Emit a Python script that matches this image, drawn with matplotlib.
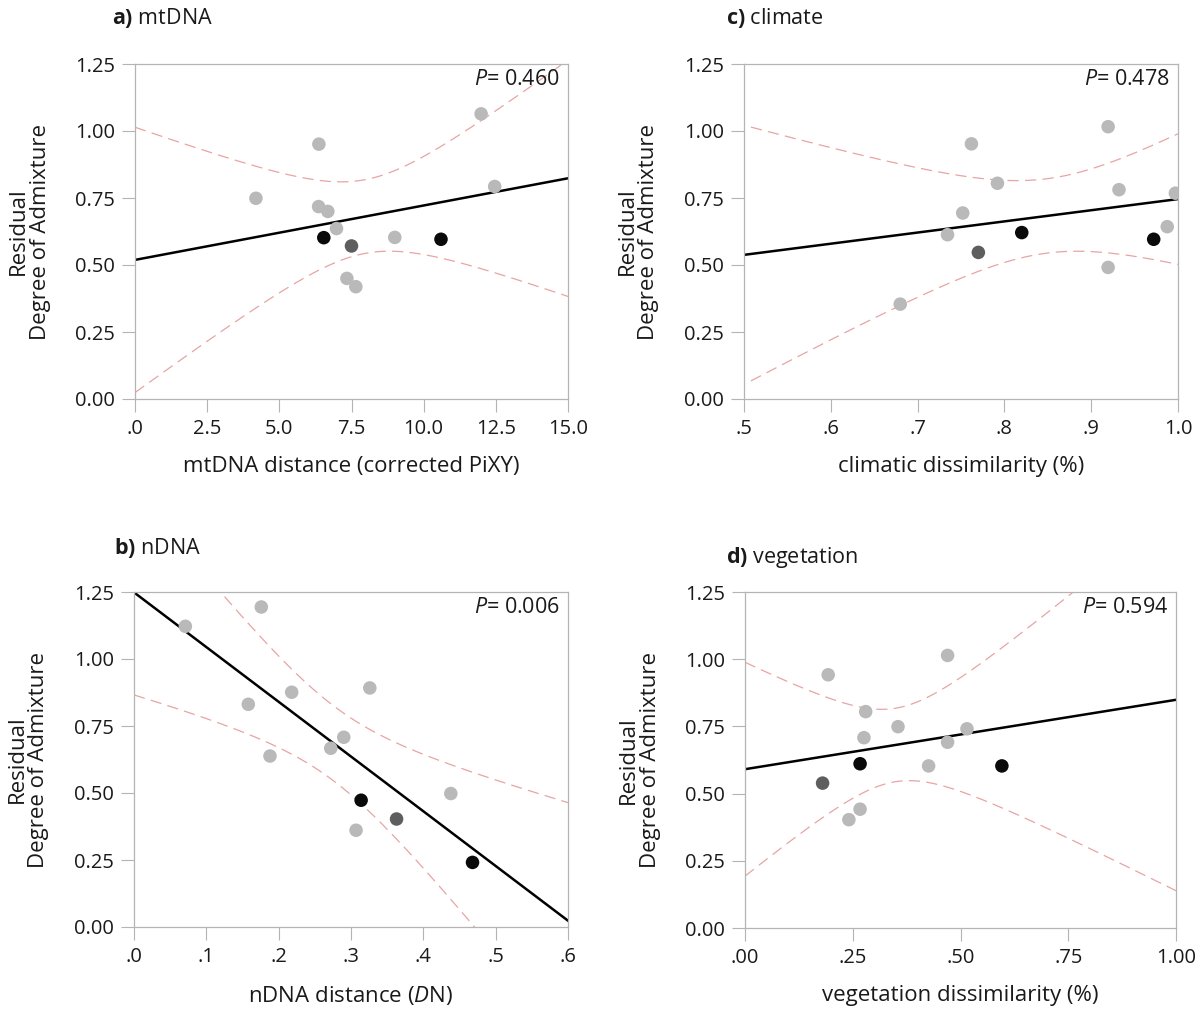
import numpy as np
import matplotlib
matplotlib.use("Agg")
import matplotlib.pyplot as plt

plt.rcParams["font.family"] = ["Open Sans", "DejaVu Sans"]
plt.rcParams["mathtext.fontset"] = "custom"
plt.rcParams["mathtext.rm"] = "Open Sans"
plt.rcParams["mathtext.it"] = "Open Sans:italic"
plt.rcParams["mathtext.bf"] = "Open Sans:bold"

# group of each point: 0 = light grey, 1 = dark grey, 2 = black
# a) mtDNA
mt_x = [4.19, 6.37, 6.36, 6.68, 6.98, 6.54, 7.50, 7.34, 7.65, 9.00, 10.60, 11.99, 12.46]
mt_y = [0.749, 0.951, 0.718, 0.700, 0.636, 0.602, 0.571, 0.450, 0.419, 0.603, 0.596, 1.064, 0.793]
mt_grp = [0, 0, 0, 0, 0, 2, 1, 0, 0, 0, 2, 0, 0]

# b) nDNA
nd_x = [0.071, 0.176, 0.158, 0.188, 0.218, 0.272, 0.290, 0.326, 0.314, 0.307, 0.363, 0.438, 0.468]
nd_y = [1.122, 1.194, 0.831, 0.638, 0.876, 0.667, 0.708, 0.892, 0.473, 0.361, 0.403, 0.498, 0.241]
nd_grp = [0, 0, 0, 0, 0, 0, 0, 0, 2, 0, 1, 0, 2]

# c) climate
cl_x = [0.680, 0.7345, 0.752, 0.762, 0.770, 0.792, 0.820, 0.9195, 0.932, 0.9195, 0.972, 0.9876, 0.997]
cl_y = [0.354, 0.613, 0.694, 0.952, 0.547, 0.805, 0.621, 1.016, 0.781, 0.491, 0.596, 0.643, 0.768]
cl_grp = [0, 0, 0, 0, 1, 0, 2, 0, 0, 0, 2, 0, 0]

# d) vegetation
vg_x = [0.193, 0.180, 0.241, 0.267, 0.267, 0.276, 0.280, 0.355, 0.426, 0.470, 0.470, 0.515, 0.596]
vg_y = [0.942, 0.539, 0.403, 0.442, 0.611, 0.708, 0.805, 0.749, 0.603, 1.014, 0.691, 0.741, 0.603]
vg_grp = [0, 1, 0, 0, 2, 0, 0, 0, 0, 0, 0, 0, 2]

y_ticks = [0.0, 0.25, 0.5, 0.75, 1.0, 1.25]
y_ticklabels = ["0.00", "0.25", "0.50", "0.75", "1.00", "1.25"]

mt_ticks = [0, 2.5, 5, 7.5, 10, 12.5, 15]
mt_ticklabels = [".0", "2.5", "5.0", "7.5", "10.0", "12.5", "15.0"]
nd_ticks = [0, 0.1, 0.2, 0.3, 0.4, 0.5, 0.6]
nd_ticklabels = [".0", ".1", ".2", ".3", ".4", ".5", ".6"]
cl_ticks = [0.5, 0.6, 0.7, 0.8, 0.9, 1.0]
cl_ticklabels = [".5", ".6", ".7", ".8", ".9", "1.0"]
vg_ticks = [0, 0.25, 0.5, 0.75, 1.0]
vg_ticklabels = [".00", ".25", ".50", ".75", "1.00"]

p_values = ["0.460", "0.006", "0.478", "0.594"]

T_BAND = 2.72  # t multiplier of the confidence curves (matches the drawn bands)
colors = ["#b9b9b9", "#5e5e5e", "#0a0a0a"]
spine_col = "#b4b4b4"

W, H = 1200, 1031
fig = plt.figure(figsize=(W / 100, H / 100), dpi=100)


def px_axes(l, t, r, b):
    return fig.add_axes([l / W, 1 - b / H, (r - l) / W, (b - t) / H])


panels = [
    # (box, x, y, grp, xlim, band start, ticks, ticklabels, xlabel, title, title pos, p)
    ((135, 64, 568, 399), mt_x, mt_y, mt_grp, (0, 15), 0, mt_ticks, mt_ticklabels,
     "mtDNA distance (corrected PiXY)", ("a)", "mtDNA"), (112, 18), p_values[0]),
    ((134, 592, 568, 927), nd_x, nd_y, nd_grp, (0, 0.6), 0, nd_ticks, nd_ticklabels,
     r"nDNA distance ($\mathit{D}$N)", ("b)", "nDNA"), (114, 548), p_values[1]),
    ((744, 64, 1178, 399), cl_x, cl_y, cl_grp, (0.5, 1.0), 0.508, cl_ticks, cl_ticklabels,
     "climatic dissimilarity (%)", ("c)", "climate"), (726, 18), p_values[2]),
    ((745, 592, 1176, 928), vg_x, vg_y, vg_grp, (0, 1.0), 0, vg_ticks, vg_ticklabels,
     "vegetation dissimilarity (%)", ("d)", "vegetation"), (726, 558), p_values[3]),
]

for box, xs, ys, grp, xlim, x0, ticks, ticklabels, xlabel, title, tpos, p in panels:
    ax = px_axes(*box)
    x = np.array(xs)
    y = np.array(ys)
    g = np.array(grp)

    # least squares fit and confidence curves of the fit
    slope, icpt = np.polyfit(x, y, 1)
    n = len(x)
    s = np.sqrt(np.sum((y - (icpt + slope * x)) ** 2) / (n - 2))
    sxx = np.sum((x - x.mean()) ** 2)
    xx = np.linspace(xlim[0], xlim[1], 300)
    fit = icpt + slope * xx
    xb = np.linspace(max(x0, xlim[0]), xlim[1], 300)
    fb = icpt + slope * xb
    half = T_BAND * s * np.sqrt(1 / n + (xb - x.mean()) ** 2 / sxx)

    ax.plot(xb, fb + half, color="#e8a4a4", lw=0.9, dashes=(9, 5), zorder=1)
    ax.plot(xb, fb - half, color="#e8a4a4", lw=0.9, dashes=(9, 5), zorder=1)
    for k in range(3):
        m = g == k
        ax.scatter(x[m], y[m], s=95, color=colors[k], edgecolors="none", zorder=3)
    ax.plot(xx, fit, color="black", lw=1.8, zorder=2)

    ax.set_xlim(*xlim)
    ax.set_ylim(0, 1.25)
    ax.set_xticks(ticks)
    ax.set_xticklabels(ticklabels)
    ax.set_yticks(y_ticks)
    ax.set_yticklabels(y_ticklabels)
    for sp in ax.spines.values():
        sp.set_color(spine_col)
        sp.set_linewidth(0.9)
    ax.tick_params(direction="out", length=9.5, width=0.8, color=spine_col,
                   labelsize=14.5, labelcolor="#1a1a1a", pad=5)

    ax.set_xlabel(xlabel, fontsize=16, color="#1a1a1a")
    ax.xaxis.set_label_coords(0.5, -0.17)
    ax.set_ylabel("Residual\nDegree of Admixture", fontsize=16, color="#1a1a1a",
                  linespacing=1.05)
    ax.yaxis.set_label_coords(-0.195, 0.5)

    ax.text(0.982, 0.955, r"$\mathit{P}$= " + p, transform=ax.transAxes,
            ha="right", va="center", fontsize=15.5, color="#1a1a1a")

    fig.text(tpos[0] / W, 1 - tpos[1] / H, r"$\mathbf{" + title[0] + "}$ " + title[1],
             ha="left", va="center", fontsize=15.5, color="#1a1a1a")

fig.savefig("out.png", dpi=100)
